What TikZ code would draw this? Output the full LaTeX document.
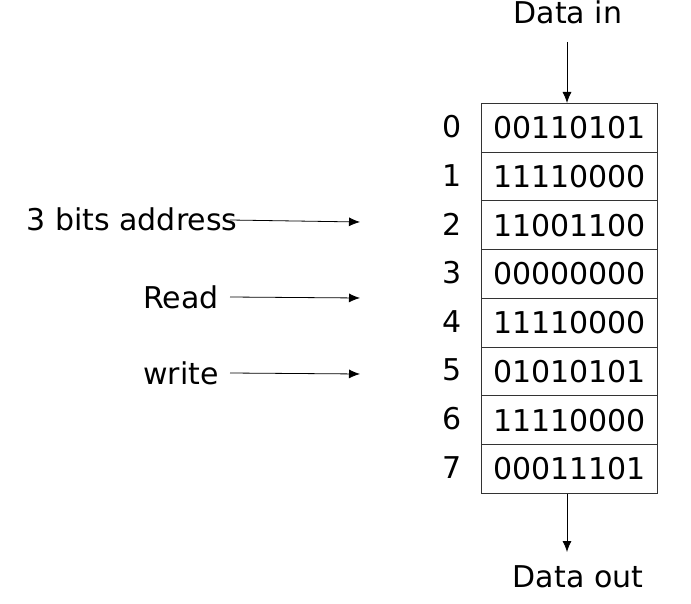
\documentclass[tikz,border=0pt]{standalone}
\usepackage{fontspec}
\setmainfont{DejaVu Sans}
\usetikzlibrary{arrows.meta}
\begin{document}
\begin{tikzpicture}[x=1pt,y=-1pt,
  every node/.style={font=\fontsize{30}{36}\selectfont, inner sep=0pt},
  cell/.style={draw=black!80, line width=1.1pt, minimum width=176pt, minimum height=48.7pt, anchor=north west},
  conn/.style={line width=0.8pt, -{Latex[length=11pt,width=9pt]}}]
\useasboundingbox (0,0) rectangle (691,604);
\foreach \v [count=\i from 0] in {00110101,11110000,11001100,00000000,11110000,01010101,11110000,00011101}{
  \node[cell] (c\i) at (481,{103+48.7*\i}) {\v};
  \node (l\i) at (452,{126.5+48.7*\i}) {\i};
}
\node (din) at (568,12) {Data in};
\node (dout) at (578,577) {Data out};
\draw[conn] (567,42) -- (c0.north -| 567,0);
\draw[conn] (c7.south -| 567,0) -- (567,552);
\node (addr) at (132,219) {3 bits address};
\node (rd) at (181,297) {Read};
\node (wr) at (181,373) {write};
\coordinate (a1) at (230,220);
\coordinate (a2) at (360,222);
\coordinate (r1) at (230,297);
\coordinate (r2) at (360,298);
\coordinate (w1) at (230,373);
\coordinate (w2) at (360,374);
\draw[conn] (a1) -- (a2);
\draw[conn] (r1) -- (r2);
\draw[conn] (w1) -- (w2);
\end{tikzpicture}
\end{document}
